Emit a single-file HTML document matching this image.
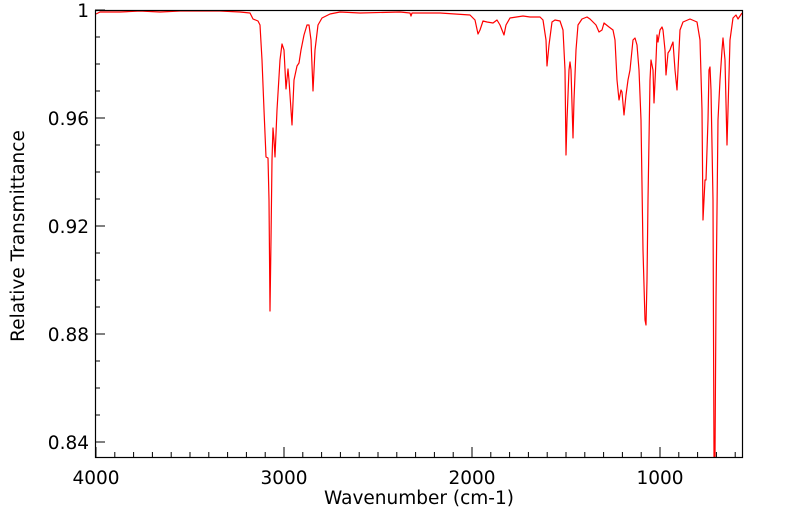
<!DOCTYPE html>
<html><head><meta charset="utf-8"><style>
body{margin:0;background:#fff;width:799px;height:516px;overflow:hidden}
text{font-family:"DejaVu Sans","Liberation Sans",sans-serif;fill:#000}
</style></head><body>
<svg width="799" height="516" viewBox="0 0 799 516" xmlns="http://www.w3.org/2000/svg">
<rect x="0" y="0" width="799" height="516" fill="#fff"/>
<g id="ticks" stroke="#000" stroke-width="1"></g>
<polyline fill="none" stroke="#ff0000" stroke-width="1.2" stroke-linejoin="round" points="
96,14 100,12 120,12 140,11 160,12 180,11 200,11 220,11 240,12 250,13 253,19 258,21 260,25 262,60 264,110 266,157 268,158 269,200 270,311 271,240 272,160 273,128 274,140 275,157 277,110 280,60 282,44 284,50 286,89 288,69 289,80 291,110 292,125 294,80 297,66 299,63 301,50 304,35 307,25 309,25 311,40 313,91 315,50 318,25 322,18 330,14 340,12 360,13 400,12 410,13 411,16 412,13 440,13 455,14 470,15 475,20 478,34 480,30 483,21 487,22 493,23 497,20 500,25 504,35 506,25 510,18 523,16 530,17 540,17 543,20 546,40 547,66 549,45 552,22 555,20 560,21 563,30 565,70 566,155 567,120 569,70 570,62 571,70 573,138 574,100 576,50 578,25 582,19 587,17 590,19 596,25 599,32 602,30 604,23 609,27 613,30 615,40 617,80 619,100 621,90 622,92 624,115 626,95 628,80 630,70 633,40 635,38 637,45 639,70 641,120 643,250 645,320 646,325 647,280 648,200 650,80 651,60 653,70 654,103 656,60 657,35 658,42 660,30 662,27 663,30 665,50 666,75 668,53 670,50 671,47 673,42 675,70 677,90 678,70 680,30 683,22 690,19 697,22 700,40 702,110 703,220 705,180 706,180 708,120 709,70 710,67 711,90 713,200 714,457 715,457 716,300 718,120 720,80 722,50 723,38 725,60 727,145 728,110 730,40 733,18 736,15 738,19 740,16 742,13"/>
<rect x="95.5" y="10.5" width="647" height="447" fill="none" stroke="#000" stroke-width="1.2"/>
<g font-size="18.5" text-anchor="middle">
<text x="96" y="484">4000</text>
<text x="284" y="484">3000</text>
<text x="472" y="484">2000</text>
<text x="660" y="484">1000</text>
</g>
<g font-size="18.5" text-anchor="end">
<text x="89" y="17">1</text>
<text x="89" y="125">0.96</text>
<text x="89" y="233">0.92</text>
<text x="89" y="341">0.88</text>
<text x="89" y="449">0.84</text>
</g>
<text x="419" y="504" font-size="18.5" text-anchor="middle">Wavenumber (cm-1)</text>
<text transform="translate(24,236) rotate(-90)" font-size="18.5" text-anchor="middle">Relative Transmittance</text>
</svg>
<script>
var g=document.getElementById('ticks'),s='';
for(var i=0;i<=34;i++){var x=96+i*18.8;if(x>742)break;var L=(i%10==0)?10:5;s+='<line x1="'+x+'" y1="457" x2="'+x+'" y2="'+(457-L)+'"/>';}
for(var j=0;j<=16;j++){var y=10+j*27;if(y>457)break;var L=(j%4==0)?10:5;s+='<line x1="95" y1="'+y+'" x2="'+(95+L)+'" y2="'+y+'"/>';}
g.innerHTML=s;
</script>
</body></html>
